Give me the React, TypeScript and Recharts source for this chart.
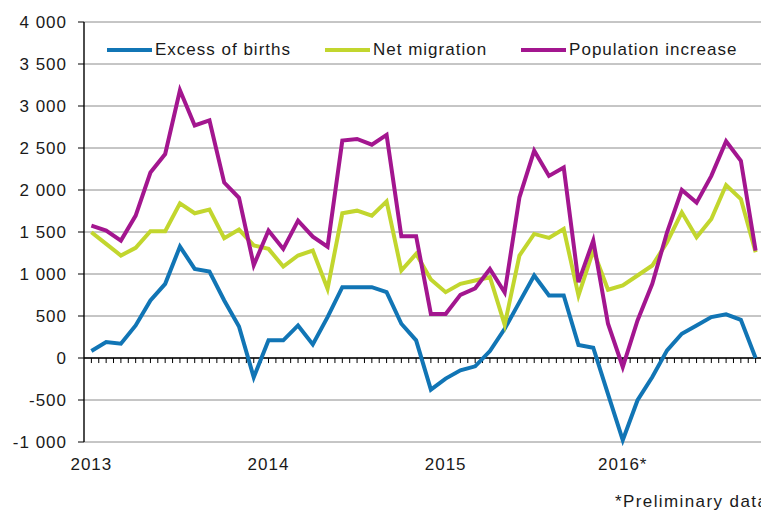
import React from 'react';
import { LineChart, Line, XAxis, YAxis, CartesianGrid, ReferenceLine, Legend } from 'recharts';

// Monthly data, January 2013 – October 2016
const yearNames = ['2013', '2014', '2015', '2016'];
const monthNames = ['01', '02', '03', '04', '05', '06', '07', '08', '09', '10', '11', '12'];
const months: string[] = yearNames
  .flatMap((y) => monthNames.map((m) => `${y}-${m}`))
  .slice(0, 46);

const yearTickIndex = [0, 12, 24, 36];
const yearTickLabels = ['2013', '2014', '2015', '2016*'];

const excessOfBirths = [
  83, 190, 170, 388, 685, 883, 1327, 1061, 1030, 685, 376, -230,
  210, 210, 388, 162, 487, 843, 843, 843, 784, 408, 210, -376,
  -245, -146, -99, 83, 348, 665, 982, 744, 744, 155, 123, -430,
  -978, -503, -226, 91, 289, 388, 487, 519, 455, 0,
];

const netMigration = [
  1497, 1358, 1220, 1311, 1509, 1509, 1841, 1723, 1766, 1426, 1529, 1340,
  1299, 1089, 1220, 1279, 824, 1723, 1754, 1695, 1865, 1041, 1240, 935,
  784, 883, 923, 962, 395, 1220, 1477, 1430, 1536, 744, 1279, 812,
  863, 982, 1101, 1378, 1734, 1437, 1655, 2059, 1893, 1259,
];

const populationIncrease = [
  1576, 1517, 1398, 1695, 2208, 2428, 3188, 2768, 2828, 2088, 1908, 1105,
  1517, 1299, 1636, 1445, 1325, 2588, 2608, 2540, 2656, 1450, 1450, 525,
  525, 752, 830, 1060, 780, 1913, 2468, 2168, 2268, 903, 1398, 408,
  -107, 447, 883, 1497, 2000, 1850, 2168, 2580, 2348, 1279,
];

const yTicks = [-1000, -500, 0, 500, 1000, 1500, 2000, 2500, 3000, 3500, 4000];

const seriesNames = ['Excess of births', 'Net migration', 'Population increase'];
const seriesColors = ['#1175b5', '#c2d62e', '#a3168f'];

// minor tick marks on the zero line, every half month
const minorTicks: number[] = [];
for (let t = 0; t <= 45.5; t += 0.5) minorTicks.push(t);

const fmt = (v: number) => {
  const s = Math.abs(v).toString().replace(/\B(?=(\d{3})+(?!\d))/g, ' ');
  return (v < 0 ? '-' : '') + s;
};

const data = months.map((m, i) => ({
  x: i,
  month: m,
  births: excessOfBirths[i],
  migration: netMigration[i],
  increase: populationIncrease[i],
}));

const renderLegend = (props: any) => {
  const payload = props.payload || [];
  return (
    <div style={{ display: 'flex', alignItems: 'center', height: 20, whiteSpace: 'nowrap' }}>
      {payload.map((p: any, i: number) => (
        <div key={i} style={{ display: 'flex', alignItems: 'center', marginRight: 34 }}>
          <svg width={45} height={6} style={{ display: 'block' }}>
            <line x1={0} y1={3} x2={45} y2={3} stroke={p.color} strokeWidth={4} />
          </svg>
          <span style={{ marginLeft: 3, color: '#1a1a1a', lineHeight: '20px' }}>{p.value}</span>
        </div>
      ))}
    </div>
  );
};

export default function App() {
  const textColor = '#1a1a1a';
  return (
    <div
      style={{
        position: 'fixed',
        left: 0,
        top: 0,
        width: 761,
        height: 511,
        overflow: 'hidden',
        background: '#fff',
        fontFamily: '"Liberation Sans", Arial, sans-serif',
        fontSize: 17,
        letterSpacing: '1px',
      }}
    >
      <LineChart
        width={770}
        height={511}
        data={data}
        margin={{ top: 22, right: 7, bottom: 39, left: 0 }}
      >
        <CartesianGrid vertical={false} stroke="#8c8c8c" strokeWidth={1} />
        <XAxis
          dataKey="x"
          type="number"
          domain={[-0.5, 45.5]}
          ticks={yearTickIndex}
          tickFormatter={(v: number) => yearTickLabels[yearTickIndex.indexOf(v)] ?? ''}
          axisLine={false}
          tickLine={false}
          tickSize={0}
          tickMargin={16}
          height={30}
          interval={0}
          tick={{ fill: textColor, fontSize: 17 }}
        />
        <YAxis
          domain={[-1000, 4000]}
          ticks={yTicks}
          interval={0}
          width={84}
          tickSize={6}
          tickMargin={11}
          axisLine={{ stroke: '#000', strokeWidth: 1.4 }}
          tickLine={{ stroke: '#000', strokeWidth: 1 }}
          tickFormatter={fmt}
          tick={{ fill: textColor, fontSize: 17 }}
        />
        <ReferenceLine y={0} stroke="#000" strokeWidth={1.4} />
        {minorTicks.map((t) => (
          <ReferenceLine
            key={t}
            segment={[{ x: t, y: 0 }, { x: t, y: -60 }]}
            stroke="#000"
            strokeWidth={1}
          />
        ))}
        <Legend
          layout="horizontal"
          verticalAlign="middle"
          align="center"
          content={renderLegend}
          wrapperStyle={{ top: 40, left: 107, width: 'auto' }}
        />
        <Line
          type="linear"
          dataKey="births"
          name={seriesNames[0]}
          stroke={seriesColors[0]}
          strokeWidth={4}
          dot={false}
          isAnimationActive={false}
        />
        <Line
          type="linear"
          dataKey="migration"
          name={seriesNames[1]}
          stroke={seriesColors[1]}
          strokeWidth={4}
          dot={false}
          isAnimationActive={false}
        />
        <Line
          type="linear"
          dataKey="increase"
          name={seriesNames[2]}
          stroke={seriesColors[2]}
          strokeWidth={4}
          dot={false}
          isAnimationActive={false}
        />
      </LineChart>
      <div
        style={{
          position: 'absolute',
          left: 615,
          top: 492,
          color: textColor,
          whiteSpace: 'nowrap',
          lineHeight: 'normal',
          letterSpacing: '1.4px',
        }}
      >
        *Preliminary data
      </div>
    </div>
  );
}
